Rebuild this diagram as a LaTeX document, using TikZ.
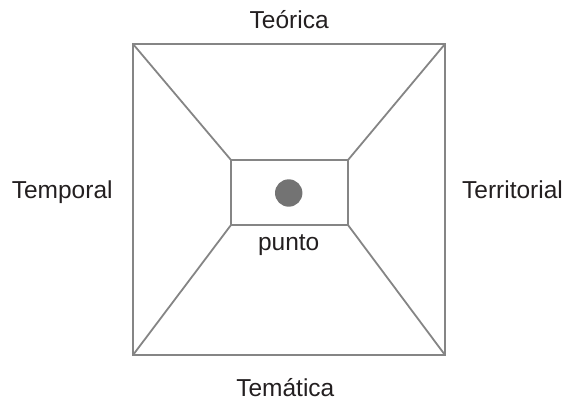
\documentclass[tikz,border=0pt]{standalone}
\usepackage{fontspec}
\setmainfont{Liberation Sans}
\definecolor{linegray}{HTML}{858585}
\definecolor{dotgray}{HTML}{737373}
\definecolor{txt}{HTML}{231F20}
\tikzset{
  edge/.style={draw=linegray, line width=1.8pt, line join=miter},
  lbl/.style={anchor=base, inner sep=0pt, text=txt, font=\fontsize{24.5}{29}\selectfont},
}
\begin{document}
\begin{tikzpicture}[x=1pt,y=-1pt]
\useasboundingbox (0,0) rectangle (568,405);
% outer square corners
\coordinate (o1) at (133,44);
\coordinate (o2) at (445,44);
\coordinate (o3) at (445,355);
\coordinate (o4) at (133,355);
% inner rectangle corners
\coordinate (i1) at (231,160);
\coordinate (i2) at (348,160);
\coordinate (i3) at (348,225);
\coordinate (i4) at (231,225);
\draw[edge] (o1) -- (o2) -- (o3) -- (o4) -- cycle;
\draw[edge] (i1) -- (i2) -- (i3) -- (i4) -- cycle;
\draw[edge] (o1) -- (i1);
\draw[edge] (o2) -- (i2);
\draw[edge] (o3) -- (i3);
\draw[edge] (o4) -- (i4);
\node[circle, fill=dotgray, minimum size=27.4pt, inner sep=0pt] (dot) at (288.7,193) {};
\node[lbl] (teorica) at (289.2,28.3) {Teórica};
\node[lbl] (temporal) at (62.2,198.3) {Temporal};
\node[lbl] (territorial) at (512.5,198.3) {Territorial};
\node[lbl] (tematica) at (285.3,396.7) {Temática};
\node[lbl] (punto) at (288.7,250) {punto};
\end{tikzpicture}
\end{document}
